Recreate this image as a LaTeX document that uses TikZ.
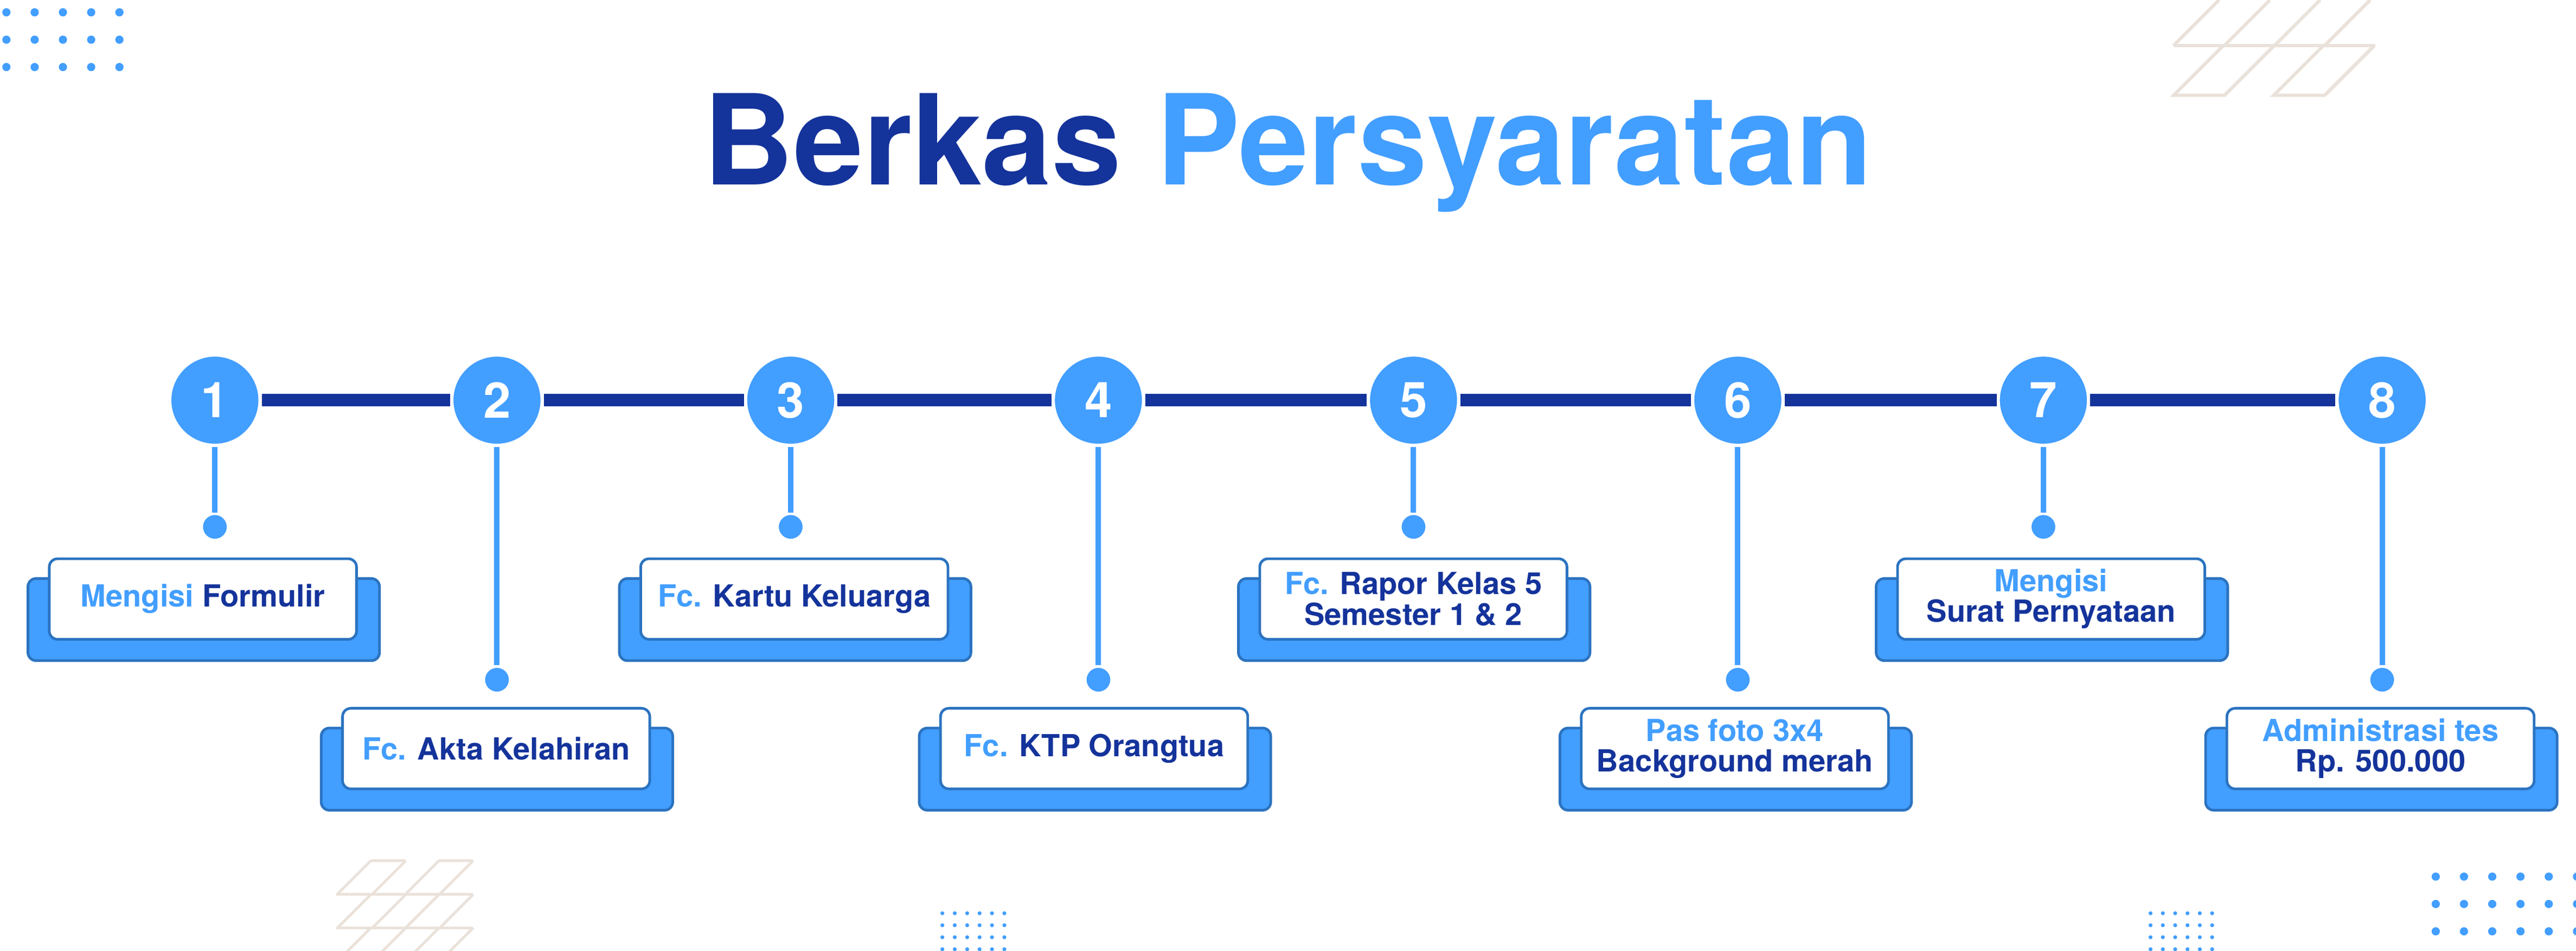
\documentclass[tikz,border=0pt]{standalone}
\usepackage{fontspec}
\setmainfont{TeX Gyre Heros}
\definecolor{lb}{HTML}{429EFF}
\definecolor{nv}{HTML}{14339B}
\definecolor{cb}{HTML}{2B73C0}
\definecolor{beig}{HTML}{EAE2DA}
\tikzset{
 num/.style={circle, fill=lb, draw=white, line width=2pt, minimum size=55pt, inner sep=0pt, text=white, font=\fontsize{30}{30}\selectfont\bfseries},
 tipdot/.style={circle, fill=lb, draw=white, line width=1.5pt, minimum size=16pt, inner sep=0pt},
 mainline/.style={draw=nv, line width=7.5pt},
 conn/.style={draw=lb, line width=3.3pt},
 cardfront/.style={rectangle, rounded corners=5pt, fill=white, draw=cb, line width=1.6pt, minimum width=187pt, minimum height=49pt, inner sep=0pt, align=center, text=nv, font=\fontsize{18.5}{18.5}\selectfont\bfseries},
 cardback/.style={rectangle, rounded corners=5pt, fill=lb, draw=cb, line width=1.6pt, minimum width=214pt, minimum height=50pt, inner sep=0pt},
 hatchA/.style={draw=beig, line width=2pt},
 hatchB/.style={draw=beig, line width=1.6pt},
}
\newcommand\mkcard[4]{%
  \node[cardback] (#1b) at (#2+0.5,#3+12.5) {};
  \node[cardfront] (#1) at (#2,#3) {#4};
}
\begin{document}
\begin{tikzpicture}[x=1pt,y=-1pt]
\fill[white] (0,0) rectangle (1568,578.66);
\useasboundingbox (0,0) rectangle (1568,578.66);

% decorations
\foreach \i in {0,...,4} \foreach \j in {0,...,2} \fill[lb] (3.9+17.2*\i, 7.5+16.65*\j) circle (2.5pt);
\foreach \i in {0,...,5} \foreach \j in {0,...,2} \fill[lb] (1482.6+17.2*\i, 533.4+16.65*\j) circle (2.5pt);
\foreach \i in {0,...,5} \foreach \j in {0,...,3} {
  \fill[lb] (573.6+7.55*\i, 555.7+7.3*\j) circle (1.2pt);
  \fill[lb] (1309+7.5*\i, 555.7+7.3*\j) circle (1.2pt);
}
% top-right hatch
\draw[hatchA] (1323,27.7) -- (1446,27.7);
\foreach \x in {1323,1354,1384.5,1415} \draw[hatchA] (\x,27.7) -- ++(27.7,-27.7);
\draw[hatchA] (1353.3,27.7) -- (1323,58) -- (1354,58) -- (1384.3,27.7);
\draw[hatchA] (1414.3,27.7) -- (1384,58) -- (1415,58) -- (1445.3,27.7);
% bottom-left hatch
\draw[hatchB] (225.7,523.7) -- (247,523.7);
\draw[hatchB] (267.2,523.7) -- (288,523.7);
\draw[hatchB] (204.5,544.3) -- (288,544.3);
\draw[hatchB] (204.5,564.6) -- (288,564.6);
\foreach \x in {225.7,247,267.2,288} {
  \draw[hatchB] (\x,523.7) -- ++(-20.6,20.6);
  \draw[hatchB] (\x,544.3) -- ++(-20.3,20.3);
  \draw[hatchB] (\x,564.6) -- ++(-15,15);
}

% title
\node[anchor=base, font=\fontsize{76.3}{76}\selectfont\bfseries, inner sep=0pt] (title) at (784,112.5)
  {\textcolor{nv}{Berkas} \textcolor{lb}{Persyaratan}};

% circles and dots
\foreach \i/\x/\dy in {1/130.8/320.6,2/302.5/413.6,3/481.3/320.6,4/668.6/413.6,5/860.4/320.6,6/1057.8/413.6,7/1243.8/320.6,8/1450/413.6} {
  \node[num] (c\i) at (\x,243.5) {\i};
  \node[tipdot] (d\i) at (\x,\dy) {};
}
\foreach \i/\j in {1/2,2/3,3/4,4/5,5/6,6/7,7/8} \draw[mainline] (c\i) -- (c\j);
\foreach \i in {1,...,8} \draw[conn] (c\i) -- (d\i);

% cards
\mkcard{k1}{123.5}{364.5}{\textcolor{lb}{Mengisi} Formulir}
\mkcard{k2}{302}{455.5}{\textcolor{lb}{Fc.} Akta Kelahiran}
\mkcard{k3}{483.5}{364.5}{\textcolor{lb}{Fc.} Kartu Keluarga}
\mkcard{k4}{666}{455.5}{\textcolor{lb}{Fc.} KTP Orangtua}
\mkcard{k5}{860.3}{364.5}{\textcolor{lb}{Fc.} Rapor Kelas 5\\Semester 1 \& 2}
\mkcard{k6}{1056}{455.5}{\textcolor{lb}{Pas foto 3x4}\\Background merah}
\mkcard{k7}{1248.5}{364.5}{\textcolor{lb}{Mengisi}\\Surat Pernyataan}
\mkcard{k8}{1449}{455.5}{\textcolor{lb}{Administrasi tes}\\Rp. 500.000}
\end{tikzpicture}
\end{document}
